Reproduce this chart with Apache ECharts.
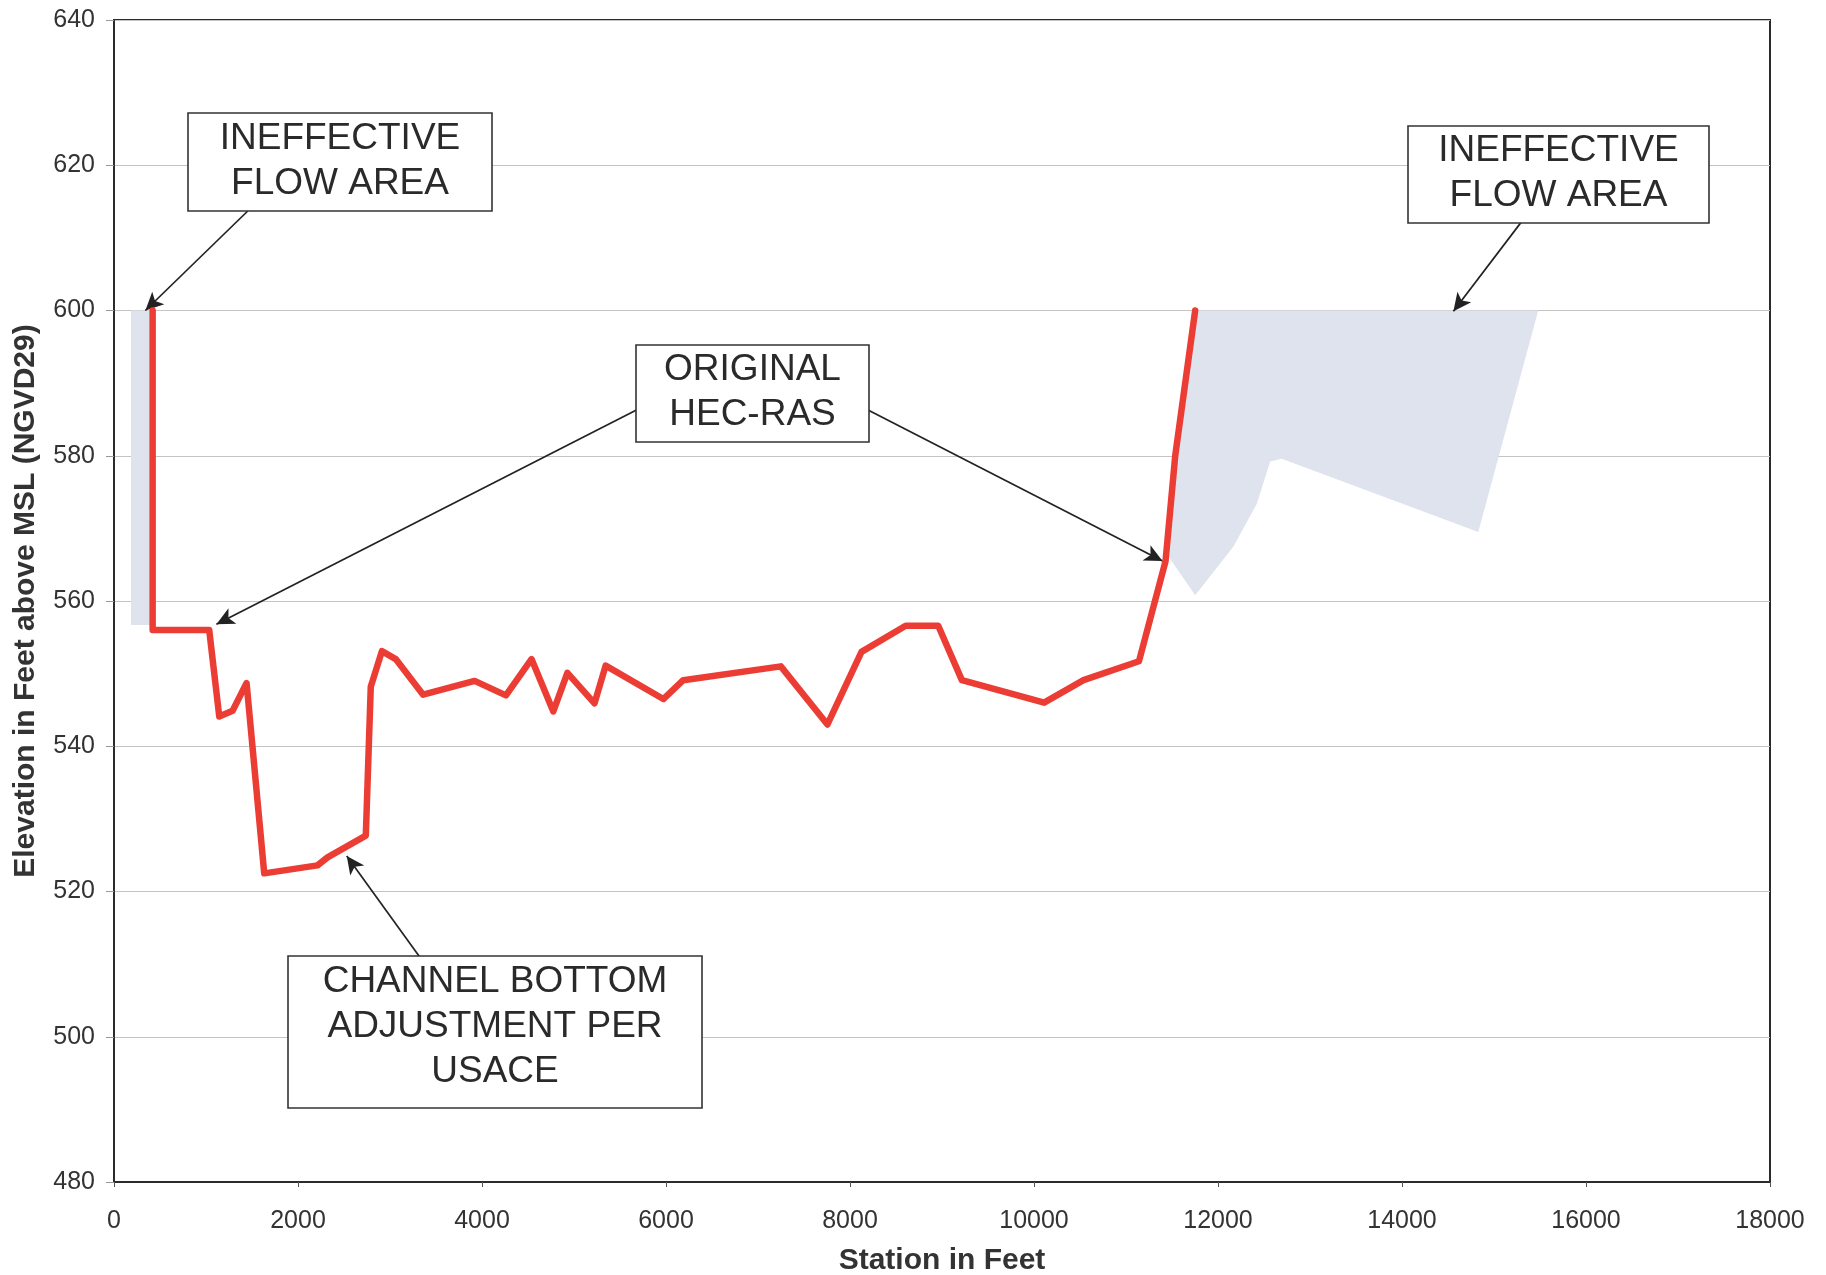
<!DOCTYPE html>
<html>
<head>
<meta charset="utf-8">
<script src="https://cdn.jsdelivr.net/npm/echarts@6/dist/echarts.min.js"></script>
<style>
html,body{margin:0;padding:0;background:#fff;}
#chart{width:1826px;height:1275px;}
</style>
</head>
<body>
<div id="chart"></div>
<script>
// Ground profile (station ft, elevation ft)
var stations = [420, 420, 1035, 1144, 1289, 1441, 1633, 2212, 2321, 2737, 2791, 2912, 3062, 3360, 3920, 4260, 4538, 4775, 4928, 5223, 5344, 5971, 6187, 7248, 7755, 8125, 8605, 8959, 9216, 10110, 10538, 11141, 11430, 11535, 11752];
var elevations = [600, 556, 556, 544.1, 544.9, 548.7, 522.5, 523.6, 524.7, 527.7, 548.2, 553.1, 552.0, 547.1, 549.0, 547.0, 552.0, 544.8, 550.1, 545.9, 551.1, 546.5, 549.1, 551.0, 543.0, 553.0, 556.6, 556.6, 549.1, 546.0, 549.1, 551.7, 565.5, 580, 600];

// Ineffective flow areas (polygons in station/elevation)
var leftShade = [[185, 600], [410, 600], [410, 556.7], [185, 556.7]];
var rightShade = [[11752, 600], [15481, 600], [14829, 569.5], [12693, 579.6], [12567, 579.2], [12422, 573.4], [12168, 567.5], [11752, 560.8], [11470, 566], [11535, 580]];

// Annotation arrows: [from, to]
var arrows = [
  [[1454, 613.7], [341, 600]],
  [[15292, 612.1], [14559, 599.9]],
  [[5679, 586.3], [1113, 556.8]],
  [[8196, 586.3], [11397, 565.5]],
  [[3327, 510.9], [2530, 524.9]]
];

var xTicks = {min: 0, max: 18000, interval: 2000};
var yTicks = {min: 480, max: 640, interval: 20};

var xName = 'Station in Feet';
var yName = 'Elevation in Feet above MSL (NGVD29)';

var boxes = [
  {text: 'INEFFECTIVE\nFLOW AREA', x: 188, y: 113, w: 304, h: 98, dy: -1},
  {text: 'INEFFECTIVE\nFLOW AREA', x: 1408, y: 126, w: 301, h: 97, dy: -1},
  {text: 'ORIGINAL\nHEC-RAS', x: 636, y: 345, w: 233, h: 97, dy: -1},
  {text: 'CHANNEL BOTTOM\nADJUSTMENT PER\nUSACE', x: 288, y: 956, w: 414, h: 152, dy: -5}
];

var FONT = "'Liberation Sans', Arial, sans-serif";
var shades = [leftShade, rightShade];
var profile = stations.map(function (s, i) { return [s, elevations[i]]; });

var chart = echarts.init(document.getElementById('chart'), null, {renderer: 'canvas'});

var graphics = [];
boxes.forEach(function (b) {
  graphics.push({
    type: 'rect', z: 100,
    shape: {x: b.x, y: b.y, width: b.w, height: b.h},
    style: {fill: '#ffffff', stroke: '#333333', lineWidth: 1.6}
  });
  graphics.push({
    type: 'text', z: 101,
    x: b.x + b.w / 2, y: b.y + b.h / 2 + b.dy,
    style: {
      text: b.text, fill: '#2a2a2a',
      font: '37px ' + FONT,
      fontSize: 37, fontFamily: FONT,
      lineHeight: 45,
      align: 'center', verticalAlign: 'middle',
      textAlign: 'center', textVerticalAlign: 'middle'
    }
  });
});

var option = {
  animation: false,
  backgroundColor: '#ffffff',
  grid: {
    left: 114, right: 56, top: 20, bottom: 93,
    outerBoundsMode: 'none', containLabel: false,
    show: true, borderColor: '#2b2b2b', borderWidth: 2, backgroundColor: 'transparent'
  },
  xAxis: {
    type: 'value',
    min: xTicks.min, max: xTicks.max, interval: xTicks.interval,
    name: xName, nameLocation: 'middle', nameGap: 64,
    nameTextStyle: {fontFamily: FONT, fontSize: 30, fontWeight: 'bold', color: '#333333'},
    axisLine: {show: true, onZero: false, lineStyle: {color: '#2b2b2b', width: 2}},
    axisTick: {show: true, length: 5, lineStyle: {color: '#555555'}},
    axisLabel: {fontFamily: FONT, fontSize: 25, color: '#333333', margin: 27,
      formatter: function (v) { return String(v); }},
    splitLine: {show: false}
  },
  yAxis: {
    type: 'value',
    min: yTicks.min, max: yTicks.max, interval: yTicks.interval,
    name: yName, nameLocation: 'middle', nameGap: 73,
    nameTextStyle: {fontFamily: FONT, fontSize: 30, fontWeight: 'bold', color: '#333333'},
    axisLine: {show: true, onZero: false, lineStyle: {color: '#2b2b2b', width: 2}},
    axisTick: {show: true, length: 8, lineStyle: {color: '#999999'}},
    axisLabel: {fontFamily: FONT, fontSize: 25, color: '#333333', margin: 19,
      formatter: function (v) { return String(v); }},
    splitLine: {show: true, lineStyle: {color: '#c4c4c4', width: 1}}
  },
  graphic: graphics,
  series: [
    {
      type: 'custom',
      name: 'Ineffective flow area',
      z: 2,
      silent: true,
      data: [0, 1],
      renderItem: function (params, api) {
        var poly = shades[params.dataIndex];
        var pts = poly.map(function (p) { return api.coord(p); });
        return {type: 'polygon', shape: {points: pts}, style: {fill: '#dfe3ed', stroke: null}};
      }
    },
    {
      type: 'line',
      name: 'Ground',
      z: 5,
      data: profile,
      symbol: 'none',
      lineStyle: {color: '#ec3d35', width: 6.5, join: 'round', cap: 'round'},
      markLine: {
        silent: true,
        symbol: ['none', 'arrow'],
        symbolSize: [13, 18],
        label: {show: false},
        lineStyle: {color: '#222222', width: 1.7, type: 'solid'},
        data: arrows.map(function (a) {
          return [{coord: a[0]}, {coord: a[1]}];
        })
      }
    }
  ]
};
chart.setOption(option);
</script>
</body>
</html>
